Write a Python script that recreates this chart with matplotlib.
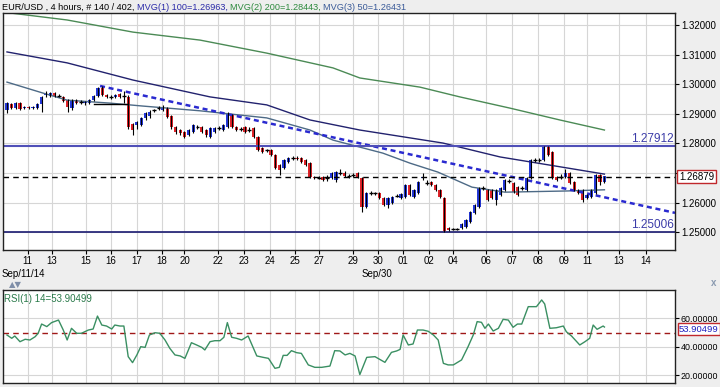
import matplotlib.pyplot as plt
from matplotlib.transforms import blended_transform_factory

plt.rcParams['font.family'] = ['Liberation Sans', 'DejaVu Sans']

# 4-hour candles, bar index 0..138
opens = [1.2912, 1.2933, 1.2919, 1.2936, 1.2919, 1.2923, 1.2919, 1.2919, 1.2933, 1.2963,
         1.2960, 1.2970, 1.2960, 1.2957, 1.2946, 1.2919, 1.2946, 1.2939, 1.2936, 1.2936,
         1.2946, 1.2960, 1.2987, 1.2963, 1.2957, 1.2957, 1.2967, 1.2960, 1.2957, 1.2865,
         1.2862, 1.2862, 1.2885, 1.2892, 1.2912, 1.2919, 1.2912, 1.2919, 1.2892, 1.2855,
         1.2845, 1.2838, 1.2828, 1.2838, 1.2855, 1.2855, 1.2845, 1.2821, 1.2838, 1.2852,
         1.2845, 1.2855, 1.2895, 1.2855, 1.2848, 1.2855, 1.2845, 1.2852, 1.2821, 1.2784,
         1.2778, 1.2778, 1.2761, 1.2727, 1.2717, 1.2737, 1.2751, 1.2751, 1.2751, 1.2744,
         1.2734, 1.2687, 1.2683, 1.2687, 1.2683, 1.2683, 1.2676, 1.2700, 1.2700, 1.2687,
         1.2693, 1.2700, 1.2683, 1.2584, 1.2632, 1.2632, 1.2632, 1.2615, 1.2591, 1.2598,
         1.2622, 1.2615, 1.2618, 1.2659, 1.2618, 1.2632, 1.2683, 1.2666, 1.2670, 1.2659,
         1.2642, 1.2615, 1.2514, 1.2510, 1.2510, 1.2514, 1.2517, 1.2534, 1.2564, 1.2584,
         1.2649, 1.2642, 1.2642, 1.2608, 1.2625, 1.2642, 1.2673, 1.2666, 1.2652, 1.2649,
         1.2642, 1.2683, 1.2744, 1.2744, 1.2744, 1.2788, 1.2771, 1.2687, 1.2687, 1.2687,
         1.2700, 1.2670, 1.2642, 1.2642, 1.2615, 1.2618, 1.2632, 1.2693, 1.2670]
closes = [1.2936, 1.2919, 1.2936, 1.2916, 1.2923, 1.2919, 1.2923, 1.2933, 1.2957, 1.2967,
          1.2970, 1.2960, 1.2961, 1.2943, 1.2923, 1.2946, 1.2936, 1.2938, 1.2939, 1.2946,
          1.2960, 1.2987, 1.2963, 1.2957, 1.2956, 1.2963, 1.2957, 1.2962, 1.2855, 1.2845,
          1.2872, 1.2885, 1.2902, 1.2906, 1.2911, 1.2920, 1.2923, 1.2889, 1.2855, 1.2838,
          1.2835, 1.2821, 1.2845, 1.2862, 1.2856, 1.2838, 1.2828, 1.2852, 1.2852, 1.2853,
          1.2862, 1.2902, 1.2855, 1.2845, 1.2846, 1.2838, 1.2846, 1.2821, 1.2778, 1.2771,
          1.2777, 1.2761, 1.2717, 1.2710, 1.2744, 1.2751, 1.2750, 1.2748, 1.2737, 1.2727,
          1.2687, 1.2684, 1.2684, 1.2676, 1.2682, 1.2700, 1.2703, 1.2701, 1.2690, 1.2689,
          1.2692, 1.2687, 1.2584, 1.2632, 1.2633, 1.2630, 1.2615, 1.2591, 1.2615, 1.2618,
          1.2621, 1.2629, 1.2659, 1.2625, 1.2642, 1.2670, 1.2686, 1.2667, 1.2659, 1.2642,
          1.2618, 1.2503, 1.2507, 1.2511, 1.2509, 1.2527, 1.2540, 1.2567, 1.2591, 1.2649,
          1.2650, 1.2608, 1.2615, 1.2642, 1.2649, 1.2676, 1.2674, 1.2636, 1.2625, 1.2648,
          1.2683, 1.2744, 1.2745, 1.2743, 1.2788, 1.2761, 1.2683, 1.2676, 1.2688, 1.2700,
          1.2666, 1.2642, 1.2632, 1.2608, 1.2625, 1.2642, 1.2693, 1.2670, 1.2688]
highs = [1.2940, 1.2937, 1.2941, 1.2940, 1.2927, 1.2926, 1.2926, 1.2936, 1.2961, 1.2977,
         1.2973, 1.2974, 1.2966, 1.2960, 1.2950, 1.2949, 1.2950, 1.2946, 1.2943, 1.2950,
         1.2963, 1.2990, 1.2994, 1.2967, 1.2963, 1.2967, 1.2970, 1.2977, 1.2962, 1.2868,
         1.2877, 1.2889, 1.2906, 1.2912, 1.2916, 1.2926, 1.2929, 1.2923, 1.2895, 1.2858,
         1.2848, 1.2841, 1.2848, 1.2865, 1.2862, 1.2859, 1.2848, 1.2855, 1.2856, 1.2858,
         1.2865, 1.2906, 1.2899, 1.2858, 1.2855, 1.2858, 1.2856, 1.2856, 1.2824, 1.2788,
         1.2782, 1.2781, 1.2764, 1.2731, 1.2747, 1.2755, 1.2756, 1.2757, 1.2755, 1.2747,
         1.2737, 1.2690, 1.2688, 1.2690, 1.2693, 1.2704, 1.2707, 1.2714, 1.2706, 1.2697,
         1.2700, 1.2703, 1.2686, 1.2636, 1.2638, 1.2637, 1.2636, 1.2618, 1.2618, 1.2622,
         1.2628, 1.2632, 1.2662, 1.2662, 1.2646, 1.2674, 1.2700, 1.2676, 1.2674, 1.2662,
         1.2646, 1.2618, 1.2517, 1.2514, 1.2514, 1.2530, 1.2544, 1.2571, 1.2595, 1.2652,
         1.2656, 1.2646, 1.2646, 1.2646, 1.2652, 1.2680, 1.2680, 1.2670, 1.2656, 1.2655,
         1.2687, 1.2747, 1.2751, 1.2751, 1.2791, 1.2791, 1.2774, 1.2690, 1.2697, 1.2714,
         1.2704, 1.2673, 1.2646, 1.2646, 1.2629, 1.2646, 1.2697, 1.2697, 1.2691]
lows = [1.2902, 1.2915, 1.2915, 1.2912, 1.2915, 1.2916, 1.2916, 1.2916, 1.2905, 1.2958,
        1.2956, 1.2956, 1.2955, 1.2939, 1.2906, 1.2912, 1.2932, 1.2933, 1.2929, 1.2932,
        1.2942, 1.2956, 1.2960, 1.2953, 1.2950, 1.2953, 1.2953, 1.2936, 1.2848, 1.2828,
        1.2850, 1.2858, 1.2880, 1.2885, 1.2906, 1.2912, 1.2909, 1.2885, 1.2848, 1.2831,
        1.2828, 1.2817, 1.2824, 1.2835, 1.2850, 1.2835, 1.2821, 1.2817, 1.2835, 1.2846,
        1.2841, 1.2852, 1.2852, 1.2841, 1.2841, 1.2835, 1.2840, 1.2817, 1.2774, 1.2768,
        1.2772, 1.2757, 1.2712, 1.2693, 1.2712, 1.2733, 1.2744, 1.2744, 1.2733, 1.2723,
        1.2683, 1.2680, 1.2679, 1.2672, 1.2673, 1.2679, 1.2670, 1.2693, 1.2686, 1.2683,
        1.2687, 1.2683, 1.2567, 1.2580, 1.2627, 1.2625, 1.2611, 1.2587, 1.2580, 1.2594,
        1.2617, 1.2611, 1.2615, 1.2621, 1.2615, 1.2629, 1.2676, 1.2659, 1.2655, 1.2638,
        1.2615, 1.2501, 1.2504, 1.2506, 1.2506, 1.2510, 1.2514, 1.2530, 1.2560, 1.2580,
        1.2644, 1.2604, 1.2611, 1.2591, 1.2621, 1.2638, 1.2666, 1.2632, 1.2621, 1.2642,
        1.2638, 1.2680, 1.2737, 1.2737, 1.2740, 1.2757, 1.2679, 1.2672, 1.2680, 1.2683,
        1.2662, 1.2638, 1.2629, 1.2601, 1.2611, 1.2615, 1.2629, 1.2659, 1.2666]

# moving averages, read at points along each line (bar index, price)
ma200_x = [0, 13.9, 29.1, 44.6, 60, 75.3, 81.5, 95.4, 104.6, 116.2, 127.7, 138]
ma200_y = [1.3242, 1.3217, 1.3176, 1.3149, 1.3105, 1.3055, 1.3021, 1.2990, 1.2957, 1.2919, 1.2879, 1.2845]
ma100_x = [0, 13.9, 29.1, 46.9, 60, 70, 81.5, 100.7, 113.9, 129.3, 138]
ma100_y = [1.3109, 1.3072, 1.3014, 1.2957, 1.2930, 1.2879, 1.2845, 1.2801, 1.2754, 1.2717, 1.2696]
ma50_x = [0, 8.3, 13.9, 23.8, 31.4, 44.6, 60, 70, 75.3, 86.8, 93.1, 99.5, 107.4, 115, 129.3, 138]
ma50_y = [1.3007, 1.2970, 1.2946, 1.2936, 1.2926, 1.2910, 1.2886, 1.2845, 1.2811, 1.2767, 1.2733,
          1.2703, 1.2652, 1.2635, 1.2639, 1.2643]

trend_x = [21.5, 154.3]
trend_y = [1.2994, 1.2565]
box_line_x = [20, 28]
box_line_y = [1.2933, 1.2933]

LEVEL_HIGH = 1.27912
LEVEL_LOW = 1.25006
LAST_PRICE = 1.26879

rsi_x = [0, 1.1, 1.8, 3.0, 4.2, 5.3, 6.5, 7.2, 8.0, 9.2, 10.3, 11.9, 13.0, 13.9, 14.9, 16.1, 17.2,
         18.8, 19.9, 20.9, 21.9, 23.0, 24.2, 24.9, 26.1, 27.0, 28.0, 29.0, 30.0, 30.9, 31.9, 32.9,
         34.2, 35.3, 36.5, 37.6, 38.8, 40.0, 41.1, 42.6, 43.8, 45.0, 45.7, 46.9, 48.0, 49.2, 50.1,
         50.9, 51.9, 53.0, 54.2, 55.7, 57.7, 59.2, 60.4, 61.9, 62.9, 63.8, 64.7, 65.7, 66.9, 68.0,
         69.6, 71.1, 72.7, 74.6, 75.7, 76.9, 78.1, 79.2, 80.4, 81.5, 83.1, 85.0, 87.3, 88.8, 90.0,
         90.8, 91.5, 92.7, 93.8, 94.8, 96.1, 97.3, 98.5, 99.6, 100.8, 101.9, 103.1, 105.0, 106.5,
         107.7, 108.6, 109.6, 110.4, 111.2, 112.3, 113.5, 114.6, 115.8, 116.9, 117.9, 118.9, 120.4,
         122.3, 123.5, 124.2, 125.4, 126.9, 128.5, 129.2, 130.4, 132.3, 133.5, 134.6, 135.4, 136.3,
         137.7, 138.0]
rsi_y = [48.3, 46.0, 47.6, 43.6, 45.3, 44.8, 47.1, 49.5, 56.0, 54.2, 57.0, 58.8, 51.8, 44.8, 53.0,
         49.5, 49.5, 51.8, 52.5, 61.6, 55.3, 54.6, 52.5, 55.3, 54.6, 54.6, 33.1, 28.9, 34.3, 40.1,
         39.6, 48.3, 49.9, 49.5, 44.8, 39.0, 34.3, 33.6, 31.9, 42.9, 41.3, 39.6, 37.8, 43.6, 44.3,
         44.3, 46.7, 57.0, 46.7, 46.0, 44.8, 47.6, 33.6, 32.6, 31.9, 24.9, 25.6, 34.0, 34.0, 37.3,
         35.9, 35.4, 27.3, 25.6, 25.6, 26.5, 37.3, 37.1, 34.3, 35.4, 33.6, 20.5, 32.6, 33.1, 29.1,
         36.1, 37.1, 38.2, 48.3, 41.3, 42.0, 51.8, 51.8, 50.9, 48.3, 44.8, 28.4, 27.3, 27.3, 30.8,
         40.1, 48.3, 57.7, 57.2, 53.0, 56.0, 51.1, 53.0, 59.3, 58.8, 53.7, 56.0, 56.0, 68.2, 68.2,
         72.9, 70.1, 53.0, 53.4, 54.6, 50.6, 47.6, 41.3, 43.6, 46.0, 55.3, 52.3, 54.6, 53.9]
RSI_LAST = 53.90499
RSI_MID = 50

tick_pos = [4.8, 10.4, 18.2, 24, 30, 35.8, 41, 48.7, 54.7, 60.7, 66.5, 72, 79.9, 85.7, 91.4,
            97.5, 103, 110.6, 116.6, 122.6, 128.6, 134, 141.3, 147.6]
tick_labels = ['11', '13', '15', '16', '17', '18', '20', '22', '23', '24', '25', '27', '29',
               '30', '01', '02', '04', '06', '07', '08', '09', '11', '13', '14']
price_ticks = [1.25, 1.26, 1.27, 1.28, 1.29, 1.30, 1.31, 1.32]
# the 1.27000 label sits under the last-price box in the original
price_labels = ['1.25000', '1.26000', '', '1.28000', '1.29000', '1.30000', '1.31000', '1.32000']

UP, DOWN = '#2438d8', '#e0242a'
GRID = '#d6d6d6'

fig = plt.figure(figsize=(7.2, 3.87), dpi=100, facecolor='#eeeeee')
ax = fig.add_axes([3 / 720, 1 - 250 / 387, 672 / 720, 237 / 387])
ax2 = fig.add_axes([3 / 720, 1 - 383 / 387, 672 / 720, 93 / 387])

XLIM = (-0.92, 154.3)

# --- price panel ---
ax.set_xlim(*XLIM)
ax.set_ylim(1.24395, 1.32406)
ax.set_xticks(tick_pos)
ax.set_xticklabels(tick_labels)
ax.set_yticks(price_ticks)
ax.set_yticklabels(price_labels)
ax.yaxis.tick_right()
ax.tick_params(axis='both', labelsize=7, length=3, pad=1.5, colors='black')
ax.grid(True, color=GRID, lw=0.8)
ax.set_axisbelow(True)
for s in ax.spines.values():
    s.set_color('#222222')
    s.set_linewidth(1)

ax.plot(ma200_x, ma200_y, color='#4b8a55', lw=1)
ax.plot(ma100_x, ma100_y, color='#22226e', lw=1)
ax.plot(ma50_x, ma50_y, color='#4d6a86', lw=1)
ax.plot(trend_x, trend_y, color='#2a2ad0', lw=1.8, ls=(0, (2, 1.5)))
ax.plot(box_line_x, box_line_y, color='black', lw=1)

ax.axhline(LEVEL_HIGH, color='#5050b8', lw=1.5)
ax.axhline(LEVEL_LOW, color='#1a1a70', lw=1.2)
ax.axhline(LAST_PRICE, color='black', lw=1, ls=(0, (4, 3)))

for i in range(len(closes)):
    o, c = opens[i], closes[i]
    ax.vlines(i, lows[i], highs[i], color='black', lw=0.8)
    if abs(c - o) < 0.00025:
        ax.hlines((o + c) / 2, i - 0.45, i + 0.45, color='black', lw=1)
    else:
        ax.bar(i, abs(c - o), bottom=min(o, c), width=0.75,
               color=UP if c > o else DOWN, lw=0)

lev_kw = dict(ha='right', va='bottom', color='#3c3ca8', fontsize=8.5)
ax.text(XLIM[1] - 0.3, LEVEL_HIGH + 0.0002, '%.5f' % LEVEL_HIGH, **lev_kw)
ax.text(XLIM[1] - 0.3, LEVEL_LOW + 0.0002, '%.5f' % LEVEL_LOW, **lev_kw)

tr = blended_transform_factory(ax.transAxes, ax.transData)
ax.text(1.006, LAST_PRICE, '%.5f' % LAST_PRICE, transform=tr, ha='left', va='center',
        fontsize=7, color='black', zorder=5,
        bbox=dict(boxstyle='square,pad=0.2', fc='white', ec='#c0282c', lw=1))

# --- RSI panel ---
ax2.set_xlim(*XLIM)
ax2.set_ylim(14.6, 79.9)
ax2.set_xticks(tick_pos)
ax2.set_xticklabels([])
ax2.tick_params(axis='x', length=0)
ax2.set_yticks([20, 40, 60])
ax2.set_yticklabels(['20.00000', '40.00000', '60.00000'])
ax2.yaxis.tick_right()
ax2.tick_params(axis='y', labelsize=6.4, length=3, pad=1.2)
ax2.grid(True, color=GRID, lw=0.8)
ax2.set_axisbelow(True)
for s in ax2.spines.values():
    s.set_color('#222222')
    s.set_linewidth(1)
ax2.axhline(RSI_MID, color='#a01818', lw=1, ls=(0, (4, 3)))
ax2.plot(rsi_x, rsi_y, color='#3a8f62', lw=1)
ax2.text(0.002, 0.96, 'RSI(1) 14=%.5f' % RSI_LAST, transform=ax2.transAxes,
         ha='left', va='top', fontsize=7, color='#2a7a4a')
tr2 = blended_transform_factory(ax2.transAxes, ax2.transData)
ax2.text(1.006, RSI_LAST - 1.5, '%.5f' % RSI_LAST, transform=tr2, ha='left', va='center',
         fontsize=6.8, color='#2020c0', zorder=5,
         bbox=dict(boxstyle='square,pad=0.15', fc='white', ec='#c0282c', lw=1))

# --- header and date labels ---
parts = [('EUR/USD , 4 hours, # 140 / 402, ', 'black'),
         ('MVG(1) 100=1.26963, ', '#2a2aa8'),
         ('MVG(2) 200=1.28443, ', '#2e8a3e'),
         ('MVG(3) 50=1.26431', '#3a5a98')]
prev = fig.text(2 / 720, 1 - 7 / 387, parts[0][0], color=parts[0][1], fontsize=6.6,
                ha='left', va='center')
for txt, col in parts[1:]:
    prev = ax.annotate(txt, xy=(1, 0.5), xycoords=prev, ha='left', va='center',
                       color=col, fontsize=6.6, annotation_clip=False)

fig.text(2 / 720, 1 - 274 / 387, 'Sep/11/14', fontsize=7, ha='left', va='center')
fig.text(362 / 720, 1 - 274 / 387, 'Sep/30', fontsize=7, ha='left', va='center')
fig.text(9 / 720, 1 - 285 / 387, '\u25b2\u25bc', fontsize=6, color='#7f8ea8',
         ha='left', va='center', family='DejaVu Sans')
fig.text(714 / 720, 1 - 283 / 387, 'x', fontsize=7, color='#8a9ab0', weight='bold',
         ha='center', va='center')

fig.savefig('out.png', dpi=100, facecolor=fig.get_facecolor())
